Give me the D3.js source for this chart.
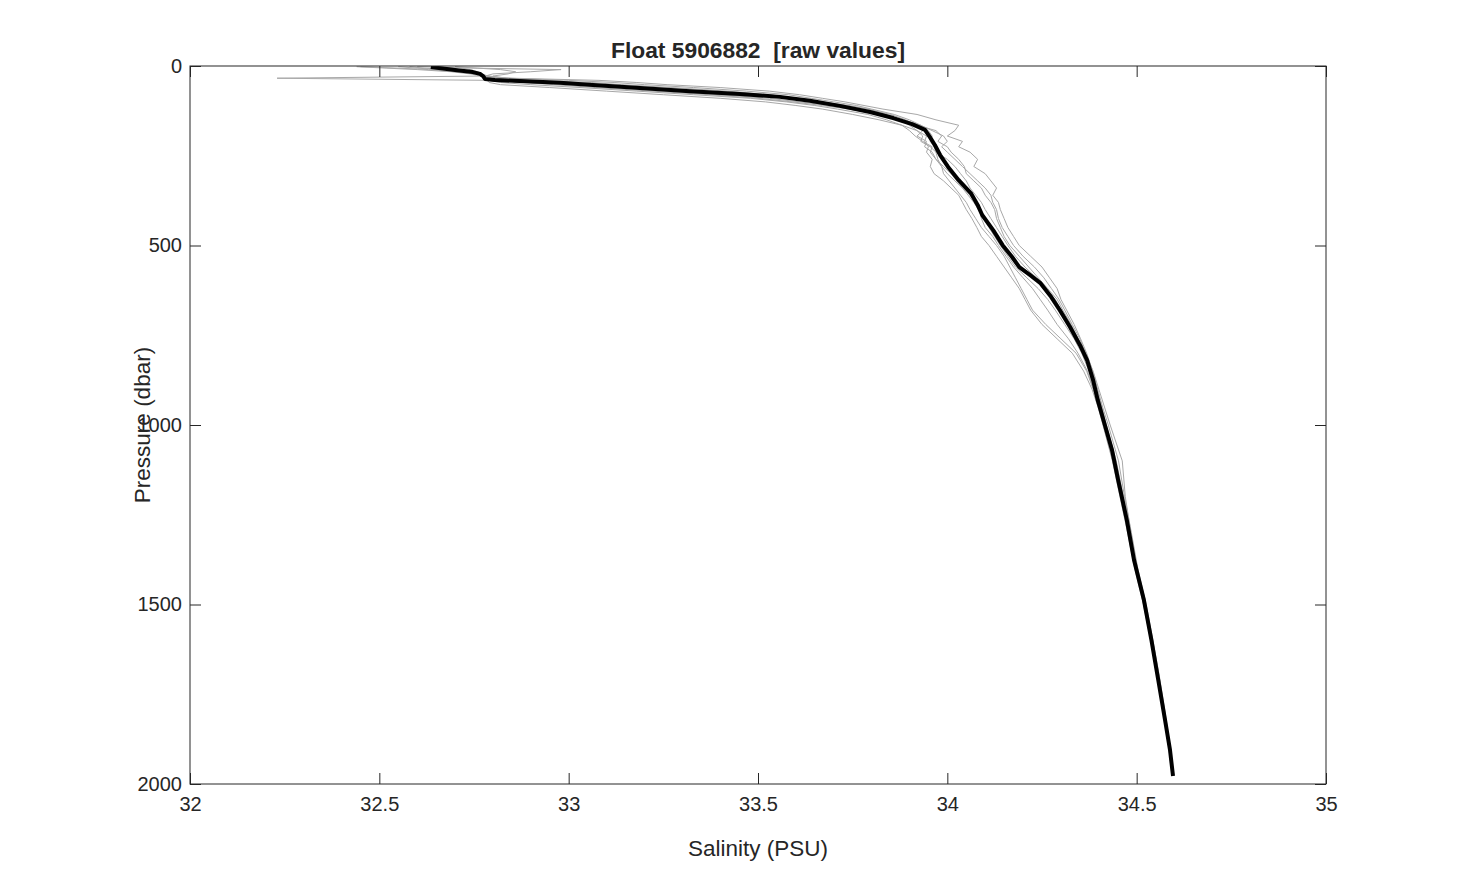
<!DOCTYPE html>
<html>
<head>
<meta charset="utf-8">
<script src="https://cdn.jsdelivr.net/npm/d3@7"></script>
<style>
  body { margin: 0; background: #fff; }
  text { font-family: "Liberation Sans", Arial, sans-serif; fill: #262626; }
  .title { font-size: 22.8px; font-weight: bold; white-space: pre; }
  .label { font-size: 22.5px; }
</style>
</head>
<body>
<script>
// float profiles, pressure (dbar) vs salinity (PSU)
var title = "Float 5906882  [raw values]";
var xTicks = [32, 32.5, 33, 33.5, 34, 34.5, 35];
var yTicks = [0, 500, 1000, 1500, 2000];

// latest profile (black)
var blackPres = [3, 11, 17, 22, 28, 36, 39, 47, 53, 61, 70, 78, 86, 97, 111, 128, 145, 162, 178, 198, 220, 248, 281, 318, 354, 387, 415, 457, 499, 532, 560, 582, 604, 643, 680, 727, 777, 819, 875, 930, 1000, 1070, 1153, 1265, 1376, 1487, 1599, 1710, 1822, 1905, 1978];
var blackSal = [32.636, 32.70, 32.747, 32.766, 32.774, 32.779, 32.805, 32.977, 33.064, 33.188, 33.32, 33.452, 33.558, 33.637, 33.716, 33.796, 33.857, 33.907, 33.941, 33.954, 33.967, 33.981, 34.002, 34.03, 34.062, 34.08, 34.092, 34.121, 34.146, 34.171, 34.19, 34.218, 34.245, 34.274, 34.297, 34.324, 34.35, 34.369, 34.385, 34.397, 34.416, 34.435, 34.451, 34.474, 34.493, 34.519, 34.539, 34.557, 34.575, 34.588, 34.596];

// earlier profiles (gray), common pressure levels
var grayPres = [2, 6, 10, 16, 22, 28, 34, 40, 46, 52, 60, 70, 80, 90, 100, 110, 120, 135, 150, 165, 180, 195, 210, 225, 240, 260, 280, 300, 320, 340, 360, 380, 400, 425, 450, 475, 500, 530, 560, 590, 620, 650, 680, 720, 760, 800, 850, 900, 950, 1000, 1100, 1200, 1300, 1400, 1500, 1600, 1700, 1800, 1900, 1960];

var gray1 = [32.45, 32.55, 32.63, 32.70, 32.76, 32.79, 32.84, 33.00, 33.12, 33.20, 33.33, 33.47, 33.58, 33.64, 33.70, 33.76, 33.80, 33.86, 33.90, 33.93, 33.95, 33.96, 33.955, 33.965, 33.97, 33.975, 33.985, 33.99, 34.005, 34.02, 34.035, 34.05, 34.06, 34.075, 34.09, 34.11, 34.13, 34.15, 34.165, 34.18, 34.195, 34.21, 34.225, 34.26, 34.30, 34.34, 34.368, 34.385, 34.40, 34.412, 34.437, 34.458, 34.478, 34.497, 34.52, 34.538, 34.556, 34.571, 34.586, 34.593];
var gray2 = [32.58, 32.62, 32.67, 32.72, 32.75, 32.77, 32.23, 32.79, 32.90, 33.00, 33.13, 33.26, 33.40, 33.53, 33.61, 33.69, 33.75, 33.83, 33.88, 33.93, 33.96, 33.99, 34.00, 33.985, 34.00, 34.02, 34.04, 34.06, 34.08, 34.10, 34.115, 34.12, 34.13, 34.135, 34.145, 34.16, 34.175, 34.20, 34.23, 34.255, 34.275, 34.295, 34.31, 34.33, 34.35, 34.365, 34.38, 34.395, 34.408, 34.42, 34.446, 34.465, 34.484, 34.50, 34.523, 34.542, 34.558, 34.574, 34.588, 34.595];
var gray3 = [32.70, 32.72, 32.74, 32.76, 32.77, 32.78, 32.78, 32.785, 32.79, 32.82, 32.95, 33.10, 33.25, 33.40, 33.52, 33.60, 33.67, 33.75, 33.82, 33.88, 33.92, 33.945, 33.94, 33.95, 33.945, 33.96, 33.955, 33.965, 33.99, 34.01, 34.03, 34.04, 34.05, 34.065, 34.078, 34.09, 34.11, 34.13, 34.15, 34.17, 34.19, 34.205, 34.22, 34.25, 34.29, 34.33, 34.36, 34.382, 34.398, 34.411, 34.436, 34.456, 34.476, 34.495, 34.518, 34.537, 34.555, 34.57, 34.585, 34.592];
var gray4 = [32.44, 32.52, 32.60, 32.69, 32.74, 32.77, 32.85, 33.08, 33.18, 33.26, 33.40, 33.53, 33.61, 33.67, 33.73, 33.78, 33.83, 33.92, 33.97, 34.03, 34.02, 34.00, 34.04, 34.03, 34.06, 34.08, 34.07, 34.10, 34.115, 34.13, 34.12, 34.135, 34.14, 34.15, 34.16, 34.175, 34.19, 34.22, 34.25, 34.27, 34.29, 34.30, 34.315, 34.335, 34.352, 34.368, 34.384, 34.397, 34.41, 34.425, 34.452, 34.468, 34.486, 34.503, 34.525, 34.543, 34.56, 34.575, 34.589, 34.596];
var gray5 = [32.70, 32.76, 32.82, 32.86, 32.84, 32.80, 32.82, 32.88, 33.01, 33.10, 33.22, 33.37, 33.50, 33.59, 33.66, 33.73, 33.79, 33.85, 33.89, 33.92, 33.935, 33.92, 33.945, 33.94, 33.96, 33.97, 33.99, 34.01, 34.025, 34.04, 34.055, 34.07, 34.082, 34.095, 34.11, 34.125, 34.14, 34.16, 34.18, 34.21, 34.24, 34.265, 34.285, 34.31, 34.335, 34.355, 34.374, 34.388, 34.402, 34.415, 34.442, 34.462, 34.481, 34.50, 34.522, 34.541, 34.558, 34.573, 34.587, 34.594];
var gray6 = [32.60, 32.75, 32.98, 32.90, 32.80, 32.78, 32.80, 32.82, 32.88, 32.96, 33.07, 33.22, 33.37, 33.50, 33.59, 33.67, 33.74, 33.82, 33.87, 33.92, 33.97, 33.985, 33.975, 34.00, 34.01, 34.03, 34.045, 34.05, 34.07, 34.09, 34.10, 34.115, 34.125, 34.13, 34.14, 34.15, 34.165, 34.19, 34.215, 34.24, 34.265, 34.29, 34.305, 34.327, 34.345, 34.362, 34.379, 34.392, 34.406, 34.418, 34.443, 34.463, 34.482, 34.499, 34.522, 34.541, 34.557, 34.573, 34.588, 34.595];
var gray7 = [32.55, 32.60, 32.66, 32.72, 32.76, 32.79, 32.81, 32.90, 33.06, 33.14, 33.27, 33.42, 33.53, 33.60, 33.67, 33.74, 33.79, 33.84, 33.875, 33.90, 33.92, 33.935, 33.93, 33.955, 33.97, 34.00, 34.02, 34.035, 34.05, 34.06, 34.075, 34.09, 34.10, 34.115, 34.13, 34.145, 34.16, 34.18, 34.205, 34.235, 34.26, 34.285, 34.30, 34.325, 34.345, 34.365, 34.385, 34.40, 34.415, 34.43, 34.462, 34.47, 34.485, 34.502, 34.523, 34.542, 34.559, 34.574, 34.588, 34.595];
var gray8 = [32.66, 32.68, 32.71, 32.74, 32.76, 32.77, 32.78, 32.79, 32.82, 32.90, 33.03, 33.18, 33.33, 33.48, 33.575, 33.65, 33.71, 33.79, 33.84, 33.88, 33.90, 33.915, 33.935, 33.96, 33.955, 33.97, 33.985, 34.00, 34.02, 34.04, 34.06, 34.075, 34.085, 34.09, 34.10, 34.12, 34.135, 34.155, 34.175, 34.20, 34.225, 34.245, 34.265, 34.29, 34.32, 34.345, 34.37, 34.386, 34.40, 34.413, 34.438, 34.458, 34.479, 34.497, 34.519, 34.539, 34.556, 34.571, 34.586, 34.593];
var grayProfiles = [gray1, gray2, gray3, gray4, gray5, gray6, gray7, gray8];

var W = 1465, H = 882;
var plot = {left: 190, top: 66, right: 1326, bottom: 784};
var TICK = 11;

var x = d3.scaleLinear().domain([32, 35]).range([plot.left, plot.right]);
var y = d3.scaleLinear().domain([0, 2000]).range([plot.top, plot.bottom]);

var svg = d3.select("body").append("svg")
    .attr("width", W)
    .attr("height", H);

svg.append("clipPath").attr("id", "clip")
    .append("rect")
    .attr("x", plot.left).attr("y", plot.top)
    .attr("width", plot.right - plot.left)
    .attr("height", plot.bottom - plot.top);

var line = d3.line()
    .x(function(d) { return x(d[1]); })
    .y(function(d) { return y(d[0]); });

var lines = svg.append("g").attr("clip-path", "url(#clip)");

// gray profiles
lines.selectAll("path.gray")
    .data(grayProfiles)
    .enter()
    .append("path")
    .attr("class", "gray")
    .attr("fill", "none")
    .attr("stroke", "#a8a8a8")
    .attr("stroke-width", 1)
    .attr("stroke-linejoin", "round")
    .attr("d", function(s) {
        return line(grayPres.map(function(p, i) { return [p, s[i]]; }));
    });

// black profile
lines.append("path")
    .attr("fill", "none")
    .attr("stroke", "#000")
    .attr("stroke-width", 4)
    .attr("stroke-linejoin", "round")
    .attr("d", line(blackPres.map(function(p, i) { return [p, blackSal[i]]; })));

// axes (box with inward ticks on all sides)
var axisColor = "#262626";
function styleAxis(g) {
    g.select(".domain").remove();
    g.selectAll(".tick line").attr("stroke", axisColor);
    g.selectAll(".tick text").attr("fill", axisColor).style("font-size", "20px");
}

svg.append("g")
    .attr("transform", "translate(0," + plot.bottom + ")")
    .call(d3.axisBottom(x).tickValues(xTicks).tickFormat(d3.format("")).tickSizeInner(-TICK).tickPadding(13))
    .call(styleAxis);

svg.append("g")
    .attr("transform", "translate(0," + plot.top + ")")
    .call(d3.axisTop(x).tickValues(xTicks).tickSizeInner(-TICK).tickFormat(""))
    .call(styleAxis);

svg.append("g")
    .attr("transform", "translate(" + plot.left + ",0)")
    .call(d3.axisLeft(y).tickValues(yTicks).tickFormat(d3.format("")).tickSizeInner(-TICK).tickPadding(8))
    .call(styleAxis);

svg.append("g")
    .attr("transform", "translate(" + plot.right + ",0)")
    .call(d3.axisRight(y).tickValues(yTicks).tickSizeInner(-TICK).tickFormat(""))
    .call(styleAxis);

svg.append("rect")
    .attr("x", plot.left).attr("y", plot.top)
    .attr("width", plot.right - plot.left)
    .attr("height", plot.bottom - plot.top)
    .attr("fill", "none")
    .attr("stroke", axisColor)
    .attr("stroke-width", 1);

// title and labels
svg.append("text")
    .attr("class", "title")
    .attr("x", (plot.left + plot.right) / 2)
    .attr("y", 58)
    .attr("text-anchor", "middle")
    .text(title);

svg.append("text")
    .attr("class", "label")
    .attr("x", (plot.left + plot.right) / 2)
    .attr("y", 856)
    .attr("text-anchor", "middle")
    .text("Salinity (PSU)");

svg.append("text")
    .attr("class", "label")
    .attr("transform", "translate(150," + (plot.top + plot.bottom) / 2 + ") rotate(-90)")
    .attr("text-anchor", "middle")
    .text("Pressure (dbar)");
</script>
</body>
</html>
